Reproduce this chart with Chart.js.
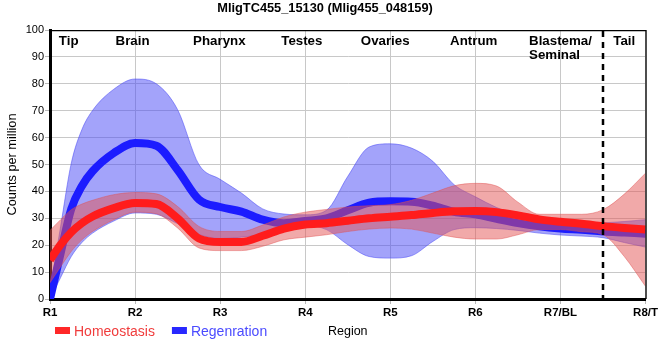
<!DOCTYPE html>
<html><head><meta charset="utf-8">
<script src="https://cdn.jsdelivr.net/npm/chart.js@4.4.1/dist/chart.umd.min.js"></script>
<style>html,body{margin:0;padding:0;background:#fff;}canvas{display:block;}</style>
</head><body>
<canvas id="c" width="660" height="360"></canvas>
<script>
// ---- data ----
const chartTitle = 'MligTC455_15130 (Mlig455_048159)';
const xTickLabels = ['R1','R2','R3','R4','R5','R6','R7/BL','R8/T'];
const regionNames = [['Tip'],['Brain'],['Pharynx'],['Testes'],['Ovaries'],['Antrum'],['Blastema/','Seminal'],['Tail']];
const regionLabelX = [0.22,0.97,1.99,2.96,3.94,4.98,6.0,6.75];
const tailBoundaryX = 6.5;
const seriesNames = ['Homeostasis','Regenration'];
const yAxisTitle = 'Counts per million';
const xAxisTitle = 'Region';

const samplePos   = [0,0.125,0.25,0.375,0.5,0.75,1,1.25,1.5,1.75,2,2.25,2.5,2.75,3,3.25,3.5,3.75,4,4.25,4.5,4.75,5,5.25,5.5,5.75,6,6.25,6.5,6.75,7];
const homeoMean   = [14.5,20.2,24.8,28.2,30.7,33.8,35.7,35.3,30.0,22.5,21.2,21.2,23.5,26.2,27.7,28.2,29.1,30.0,30.6,31.2,32.0,32.6,32.7,32.3,31.1,29.6,28.7,28.0,27.1,26.4,25.8];
const homeoUpper  = [25.5,29.5,33.2,35.3,36.7,38.8,39.6,39.1,34.4,27.0,25.1,25.1,27.5,30.5,32.3,33.3,34.2,34.7,35.1,36.7,39.4,42.1,43.0,42.0,36.0,31.5,31.5,31.5,33.2,39.0,46.8];
const homeoLower  = [6.0,12.0,17.7,22.0,25.1,29.5,32.3,31.7,26.4,19.0,18.0,18.0,19.6,22.0,23.0,23.9,25.1,26.0,26.4,26.0,24.5,23.0,22.3,22.3,23.9,25.8,25.8,25.0,23.9,15.8,4.7];
const regenMean   = [0,17.0,33.5,42.0,47.5,54.3,58.0,57.0,48.0,37.0,34.2,32.5,29.5,28.2,29.0,30.0,33.0,35.8,36.3,36.2,34.7,32.4,31.5,29.8,28.2,27.0,26.2,25.7,25.1,24.7,24.3];
const regenUpper  = [3.0,27.0,50.5,63.0,70.1,78.0,81.8,80.0,70.4,50.0,44.5,39.4,33.5,31.6,31.3,33.0,45.6,56.5,57.7,56.1,51.2,42.5,38.0,34.0,31.0,29.0,28.0,27.8,28.3,28.8,29.5];
const regenLower  = [0,8.0,15.8,21.0,24.5,29.0,32.0,31.5,28.0,24.0,22.5,23.0,24.0,25.5,27.2,25.8,20.2,15.8,15.2,16.1,21.4,25.8,26.5,26.2,25.5,24.5,23.8,23.4,22.8,21.0,19.3];

const pts = arr => samplePos.map((x,i)=>({x, y:arr[i]}));
const FONT = '"Liberation Sans", Arial, sans-serif';
Chart.defaults.font.family = FONT;
Chart.defaults.color = '#000';

const lineBase = {pointRadius:0, pointHoverRadius:0, cubicInterpolationMode:'monotone', fill:false};
const datasets = [
  {...lineBase, label:seriesNames[0], data:pts(homeoMean), borderColor:'rgb(255,28,28)', borderWidth:8},
  {...lineBase, label:'h_up', data:pts(homeoUpper), borderColor:'rgba(225,80,80,0.45)', borderWidth:1, fill:'+1', backgroundColor:'rgba(228,84,84,0.5)'},
  {...lineBase, label:'h_lo', data:pts(homeoLower), borderColor:'rgba(225,80,80,0.45)', borderWidth:1},
  {...lineBase, label:seriesNames[1], data:pts(regenMean), borderColor:'rgb(28,28,255)', borderWidth:8},
  {...lineBase, label:'r_up', data:pts(regenUpper), borderColor:'rgba(70,70,245,0.5)', borderWidth:1, fill:'+1', backgroundColor:'rgba(72,72,246,0.5)'},
  {...lineBase, label:'r_lo', data:pts(regenLower), borderColor:'rgba(70,70,245,0.5)', borderWidth:1}
];

const decor = {
  id:'decor',
  afterDatasetsDraw(chart){
    const {ctx, chartArea:a, scales:{x}} = chart;
    ctx.save();
    // top & right frame
    ctx.strokeStyle = '#000'; ctx.lineWidth = 1.3;
    ctx.beginPath();
    ctx.moveTo(a.left, a.top + 0.5); ctx.lineTo(a.right + 0.5, a.top + 0.5); ctx.lineTo(a.right + 0.5, a.bottom);
    ctx.stroke();
    // dashed tail boundary
    const xd = Math.round(x.getPixelForValue(tailBoundaryX));
    ctx.setLineDash([6,5]); ctx.lineWidth = 2.5;
    ctx.beginPath(); ctx.moveTo(xd, a.top + 1); ctx.lineTo(xd, a.bottom + 6); ctx.stroke();
    ctx.setLineDash([]);
    // region labels
    ctx.font = 'bold 13.3px ' + FONT;
    ctx.fillStyle = '#000'; ctx.textBaseline = 'alphabetic'; ctx.textAlign = 'left';
    regionNames.forEach((lines,i)=>{
      const cx = x.getPixelForValue(regionLabelX[i]);
      const w = Math.max(...lines.map(l=>ctx.measureText(l).width));
      lines.forEach((l,j)=>ctx.fillText(l, cx - w/2, a.top + 14.5 + j*14));
    });
    // legend
    const legendColors = ['rgb(255,40,40)','rgb(40,40,255)'];
    const legendText = ['rgb(240,60,60)','rgb(75,75,255)'];
    ctx.font = '14px ' + FONT;
    let lx = a.left + 5;
    seriesNames.forEach((n,i)=>{
      ctx.fillStyle = legendColors[i];
      ctx.fillRect(lx, 327, 15, 7);
      ctx.fillStyle = legendText[i];
      ctx.fillText(n, lx + 19, 335.5);
      lx += 19 + ctx.measureText(n).width + 17;
    });
    ctx.restore();
  }
};

new Chart(document.getElementById('c'), {
  type:'line',
  data:{datasets},
  options:{
    responsive:false, animation:false, devicePixelRatio:1,
    layout:{autoPadding:false, padding:{left:0,right:10,top:0,bottom:0}},
    plugins:{
      legend:{display:false}, tooltip:{enabled:false},
      title:{display:true, text:chartTitle, font:{size:12.8, weight:'bold'}, padding:{top:1,bottom:13.7}},
      filler:{propagate:false}
    },
    scales:{
      x:{type:'linear', min:0, max:7,
        afterFit(s){ s.height = 61; },
        ticks:{stepSize:1, autoSkip:false, maxRotation:0, padding:2, font:{size:11.5, weight:'bold'},
          callback:v=>xTickLabels[v] ?? ''},
        grid:{color:'#c8c8c8', lineWidth:1, tickLength:5, tickColor:'#b8b8b8'},
        border:{display:true, color:'#000', width:3},
        title:{display:true, text:xAxisTitle, font:{size:12.5}, padding:{top:0,bottom:21}}
      },
      y:{type:'linear', min:0, max:100,
        afterFit(s){ s.width = 50; },
        ticks:{stepSize:10, padding:1, font:{size:11}},
        grid:{color:'#c8c8c8', lineWidth:1, tickLength:5, tickColor:'#b8b8b8'},
        border:{display:true, color:'#000', width:3},
        title:{display:true, text:yAxisTitle, font:{size:12.75}, padding:{top:5,bottom:0}}
      }
    }
  },
  plugins:[decor]
});
</script>
</body></html>
